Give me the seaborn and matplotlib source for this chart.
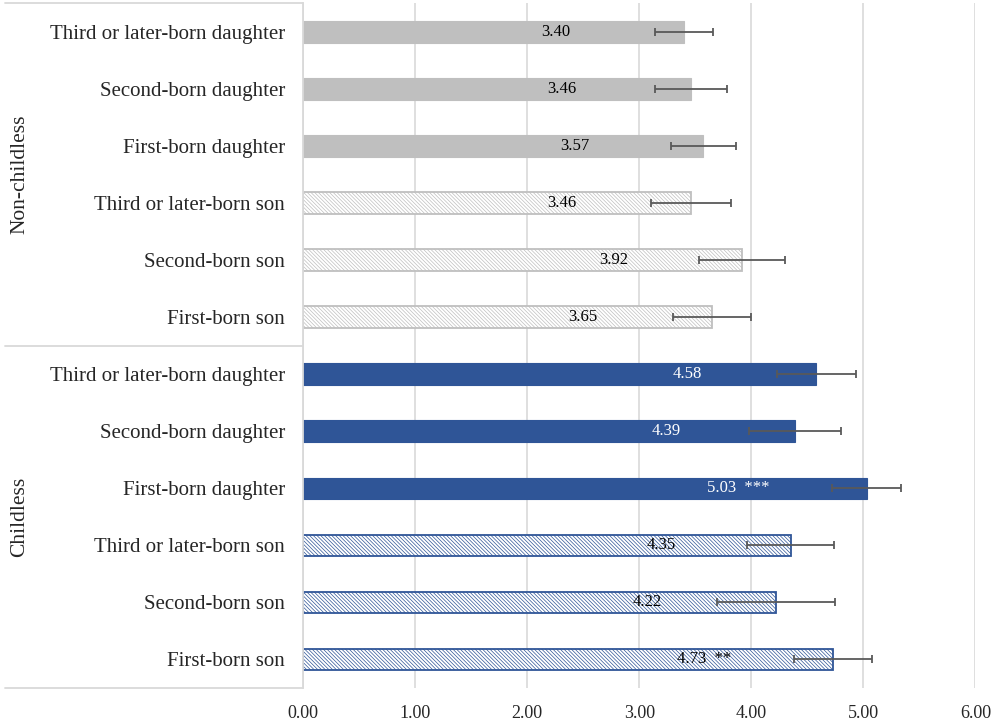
import numpy as np
import pandas as pd
import matplotlib
matplotlib.use('Agg')
import matplotlib.pyplot as plt
import seaborn as sns

# ── DATA (top to bottom) ──────────────────────────────────
GROUPS     = ['Non-childless'] * 6 + ['Childless'] * 6
CATEGORIES = ['Third or later-born daughter', 'Second-born daughter', 'First-born daughter',
              'Third or later-born son', 'Second-born son', 'First-born son'] * 2
MEANS      = [3.40, 3.46, 3.57, 3.46, 3.92, 3.65,
              4.58, 4.39, 5.03, 4.35, 4.22, 4.73]
ERRORS     = [0.26, 0.32, 0.29, 0.355, 0.385, 0.35,
              0.355, 0.41, 0.31, 0.39, 0.525, 0.35]
SIG        = ['', '', '', '', '', '',
              '', '', '***', '', '', '**']
X_TICKS    = [0, 1, 2, 3, 4, 5, 6]

# ── STYLE ─────────────────────────────────────────────────
GRAY, BLUE  = '#BFBFBF', '#2F5597'
LINE_GRAY   = '#D9D9D9'
ERR_COLOR   = '#595959'
LABEL_SHIFT = 1.15

sns.set_style('white')
plt.rcParams['font.family'] = ['Liberation Serif', 'DejaVu Serif']
plt.rcParams['hatch.linewidth'] = 0.5

df = pd.DataFrame({'group': GROUPS, 'category': CATEGORIES, 'mean': MEANS,
                   'err': ERRORS, 'sig': SIG})
df['key'] = df['group'] + '|' + df['category']
df['is_son'] = df['category'].str.endswith('son')
df['base'] = np.where(df['group'] == 'Childless', BLUE, GRAY)

fig = plt.figure(figsize=(9.99, 7.24), dpi=100, facecolor='white')
ax = fig.add_axes([0.3036, 0.0497, 0.6727, 0.9455])

palette = dict(zip(df['key'], df['base']))
sns.barplot(data=df, x='mean', y='key', hue='key', palette=palette, orient='h',
            width=0.38, saturation=1, legend=False, ax=ax, zorder=2)

# restyle bars: sons are hatched outline bars
for p in ax.patches:
    i = int(round(p.get_y() + p.get_height() / 2))
    row = df.iloc[i]
    if row['is_son']:
        p.set_facecolor('white')
        p.set_edgecolor(row['base'])
        p.set_hatch('\\' * 9)
        p.set_linewidth(1.3)
    else:
        p.set_edgecolor(row['base'])
        p.set_linewidth(0.8)

ax.errorbar(df['mean'], np.arange(len(df)), xerr=df['err'], fmt='none',
            ecolor=ERR_COLOR, elinewidth=1.3, capsize=3, capthick=1.3, zorder=3)

# value labels
for i, row in df.iterrows():
    txt = f"{row['mean']:.2f}" + (f"  {row['sig']}" if row['sig'] else '')
    color = 'white' if (row['group'] == 'Childless' and not row['is_son']) else 'black'
    ax.text(row['mean'] - LABEL_SHIFT, i, txt, ha='center', va='center',
            fontsize=12, color=color, zorder=4)

ax.set_xlim(0, 6)
ax.set_ylim(len(df) - 0.5, -0.5)
ax.set_xticks(X_TICKS)
ax.set_xticklabels([f'{t:.2f}' for t in X_TICKS], fontsize=13)
ax.set_yticks(range(len(df)))
ax.set_yticklabels(CATEGORIES, fontsize=15)
ax.tick_params(axis='x', length=0, pad=12)
ax.tick_params(axis='y', length=0, pad=13)
ax.set_xlabel(''); ax.set_ylabel('')
ax.xaxis.grid(True, color=LINE_GRAY, lw=1.2, zorder=0)
ax.set_axisbelow(True)
for s in ['top', 'right', 'bottom']:
    ax.spines[s].set_visible(False)
ax.spines['left'].set_color(LINE_GRAY)
ax.spines['left'].set_linewidth(1.3)

# multi-level category box on the left
x0 = -0.444
for yy in [0.0, 0.5, 1.0]:
    ax.plot([x0, 0], [yy, yy], transform=ax.transAxes, color=LINE_GRAY,
            lw=1.3, clip_on=False)
ax.text(-0.4216, 0.75, 'Non-childless', transform=ax.transAxes, rotation=90,
        ha='center', va='center', fontsize=15.5)
ax.text(-0.4216, 0.25, 'Childless', transform=ax.transAxes, rotation=90,
        ha='center', va='center', fontsize=15.5)

fig.savefig('out.png', dpi=100, facecolor='white')
